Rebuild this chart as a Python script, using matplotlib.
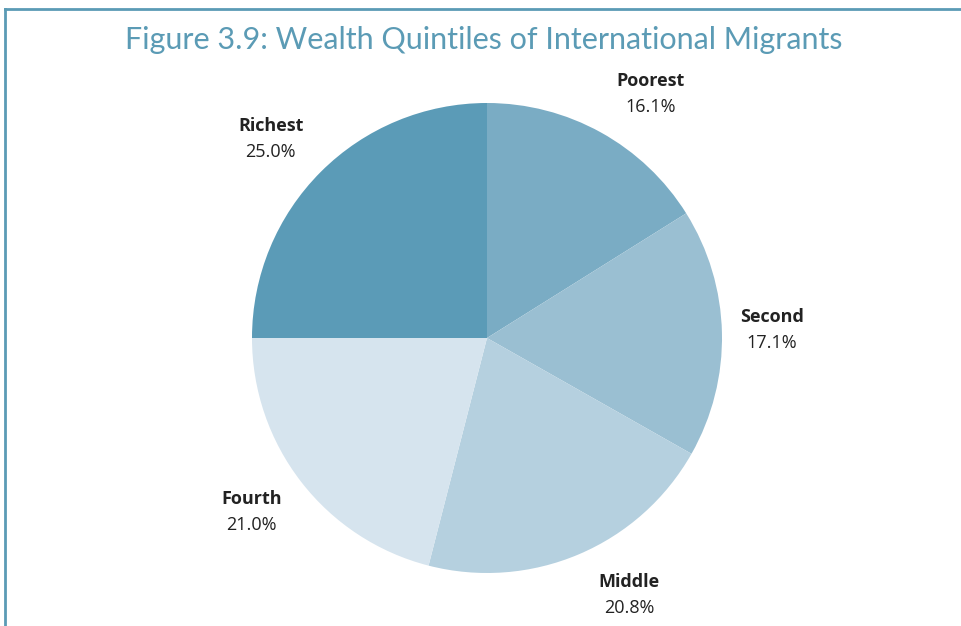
import numpy as np
import matplotlib
matplotlib.use("Agg")
import matplotlib.pyplot as plt
from matplotlib.lines import Line2D

categories = ["Poorest", "Second", "Middle", "Fourth", "Richest"]
values = [16.1, 17.1, 20.8, 21.0, 25.0]
colors = ["#7aacc4", "#9abfd2", "#b5d0df", "#d6e4ee", "#5b9bb7"]
title = "Figure 3.9: Wealth Quintiles of International Migrants"

W, H = 962, 626
fig = plt.figure(figsize=(W / 100, H / 100), dpi=100)
ax = fig.add_axes([0, 0, 1, 1])

cx, cy, R = 487, H - 338, 235
wedges, _ = ax.pie(values, colors=colors, startangle=90, counterclock=False,
                   center=(cx, cy), radius=R, frame=True,
                   wedgeprops=dict(linewidth=0))
ax.set_xlim(0, W)
ax.set_ylim(0, H)
ax.set_aspect("equal")
ax.axis("off")

for w, cat, v in zip(wedges, categories, values):
    ang = np.deg2rad((w.theta1 + w.theta2) / 2)
    c, s = np.cos(ang), np.sin(ang)
    # anchor on the rim, then offset outward like Excel outside-end labels
    x = cx + R * c + 50 * np.sign(c)
    y = cy + R * s + 43 * np.sign(s) * abs(s) ** 0.75
    ax.text(x, y + 13, cat, ha="center", va="center", fontsize=13,
            fontweight="bold", color="#222222", family="Open Sans")
    ax.text(x, y - 13, f"{v:.1f}%", ha="center", va="center", fontsize=13,
            color="#222222", family="Open Sans")

fig.text(484 / W, 1 - 40 / H, title, ha="center", va="center",
         fontsize=22, color="#5b9bb5", family="Lato")

bc = "#5b9bb5"
fig.add_artist(Line2D([4.5 / W, 1.0], [1 - 9 / H, 1 - 9 / H], color=bc,
                      linewidth=2, transform=fig.transFigure))
fig.add_artist(Line2D([4.5 / W, 4.5 / W], [1 - 9 / H, 0], color=bc,
                      linewidth=2, transform=fig.transFigure))

fig.savefig("out.png", dpi=100)
